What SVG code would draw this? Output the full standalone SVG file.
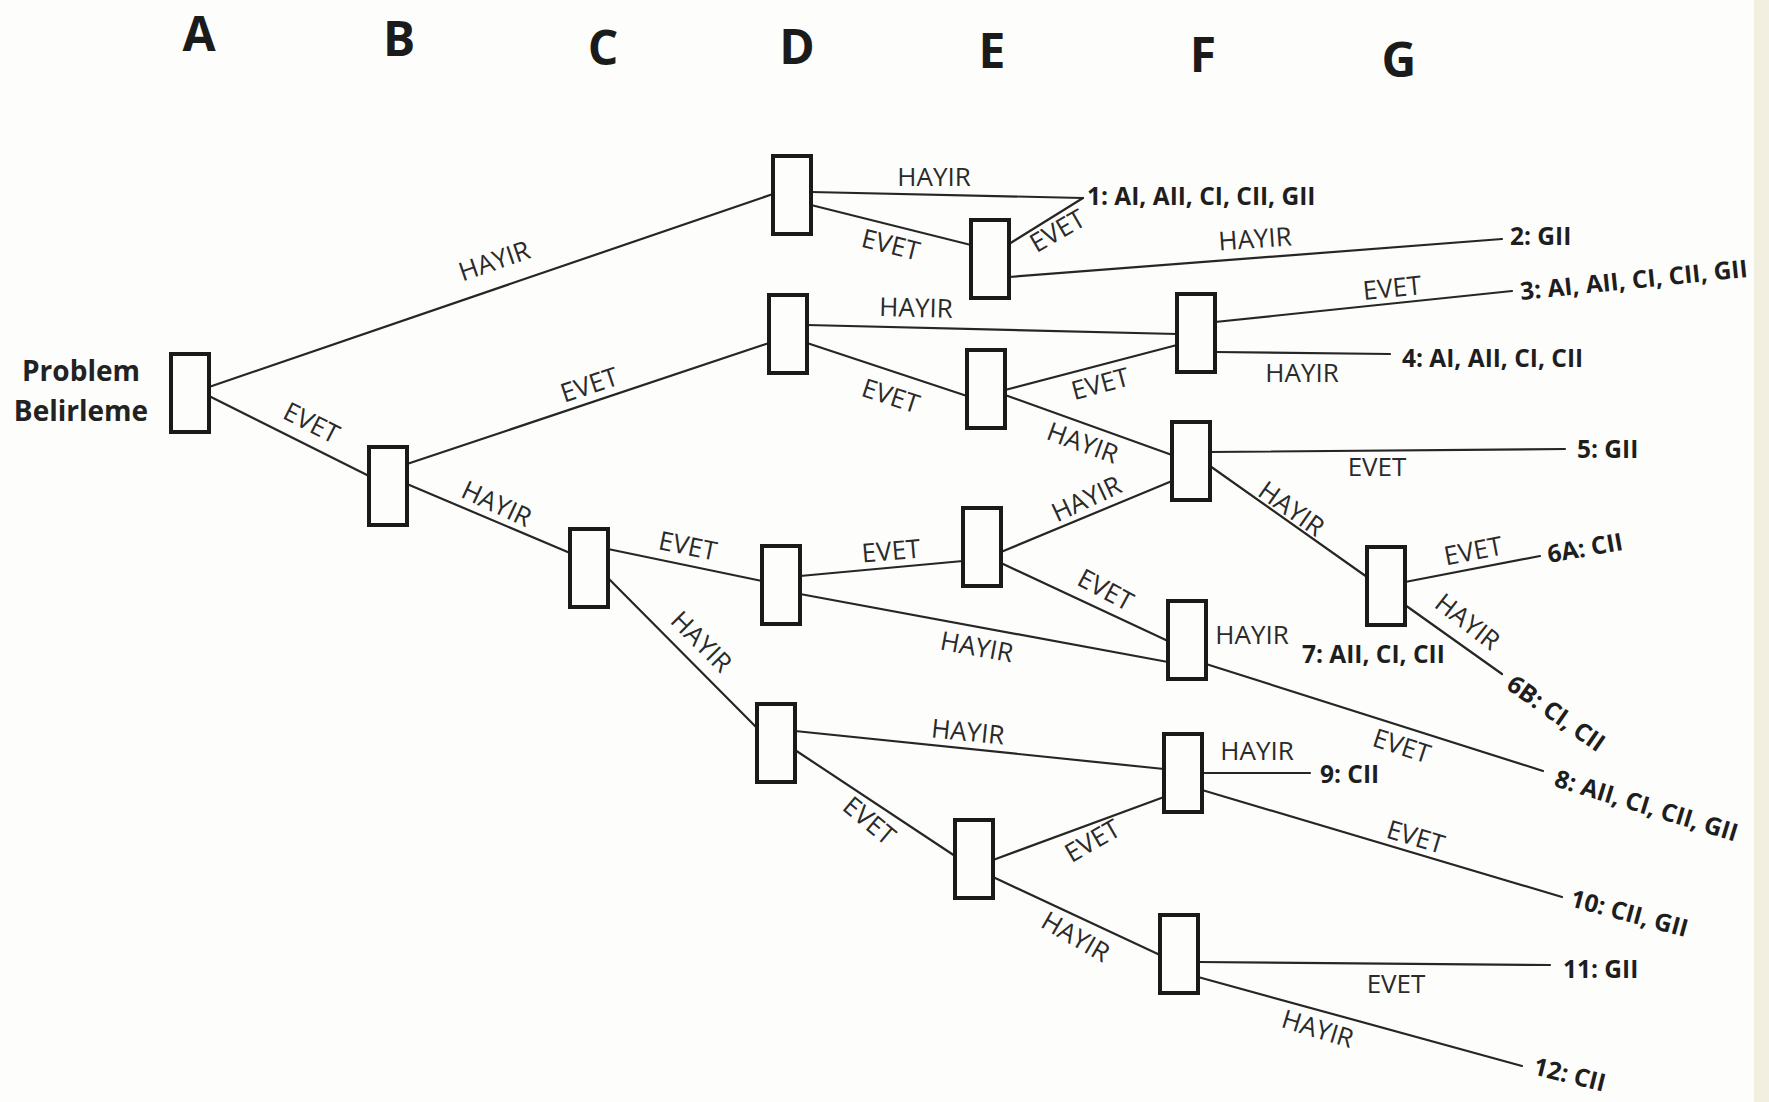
<svg xmlns="http://www.w3.org/2000/svg" width="1769" height="1102" viewBox="0 0 1769 1102">
  <defs>
    <style>
      .col { font-family: "Open Sans", "Liberation Sans", sans-serif; font-weight: 700; font-size: 48px; fill: #1b1b1b; text-anchor: middle; }
      .title { font-family: "Open Sans", "Liberation Sans", sans-serif; font-weight: 700; font-size: 28px; fill: #222; text-anchor: middle; }
      .lbl { font-family: "Open Sans", "Liberation Sans", sans-serif; font-size: 26px; fill: #2a2a2a; text-anchor: middle; dominant-baseline: central; }
      .out { font-family: "Open Sans", "Liberation Sans", sans-serif; font-weight: 700; font-size: 24.5px; fill: #1e1e1e; }
      .box { fill: #fdfdfb; stroke: #1a1a1a; stroke-width: 4; }
      .edge { stroke: #262626; stroke-width: 2.2; fill: none; stroke-linecap: round; }
    </style>
  </defs>

  <!-- paper -->
  <rect x="0" y="0" width="1769" height="1102" fill="#fdfdfb"/>
  <rect x="1754" y="0" width="15" height="1102" fill="#f2eee0"/>

  <!-- column headings -->
  <g id="columns">
    <text class="col" x="199" y="51">A</text>
    <text class="col" x="399" y="56">B</text>
    <text class="col" x="603" y="65">C</text>
    <text class="col" x="797" y="64">D</text>
    <text class="col" x="992" y="68">E</text>
    <text class="col" x="1203" y="72">F</text>
    <text class="col" x="1399" y="77">G</text>
  </g>

  <!-- connectors -->
  <g id="connectors">
    <line class="edge" x1="209" y1="387" x2="773" y2="194"/>
    <line class="edge" x1="209" y1="396" x2="369" y2="476"/>
    <line class="edge" x1="407" y1="464" x2="769" y2="343"/>
    <line class="edge" x1="407" y1="484" x2="570" y2="553"/>
    <line class="edge" x1="608" y1="549" x2="762" y2="581"/>
    <line class="edge" x1="608" y1="578" x2="757" y2="728"/>
    <line class="edge" x1="811" y1="192" x2="1083" y2="198"/>
    <line class="edge" x1="811" y1="205" x2="971" y2="245"/>
    <line class="edge" x1="1009" y1="244" x2="1083" y2="198"/>
    <line class="edge" x1="1009" y1="277" x2="1502" y2="239"/>
    <line class="edge" x1="807" y1="325" x2="1177" y2="334"/>
    <line class="edge" x1="807" y1="343" x2="967" y2="396"/>
    <line class="edge" x1="1005" y1="390" x2="1177" y2="345"/>
    <line class="edge" x1="1005" y1="395" x2="1172" y2="455"/>
    <line class="edge" x1="1215" y1="322" x2="1512" y2="291"/>
    <line class="edge" x1="1215" y1="352" x2="1390" y2="354"/>
    <line class="edge" x1="1001" y1="552" x2="1172" y2="481"/>
    <line class="edge" x1="1210" y1="452" x2="1565" y2="449"/>
    <line class="edge" x1="1210" y1="466" x2="1367" y2="577"/>
    <line class="edge" x1="800" y1="576" x2="963" y2="561"/>
    <line class="edge" x1="1001" y1="563" x2="1168" y2="641"/>
    <line class="edge" x1="800" y1="594" x2="1168" y2="662"/>
    <line class="edge" x1="1405" y1="582" x2="1540" y2="556"/>
    <line class="edge" x1="1405" y1="605" x2="1502" y2="674"/>
    <line class="edge" x1="1206" y1="664" x2="1543" y2="771"/>
    <line class="edge" x1="795" y1="731" x2="1164" y2="769"/>
    <line class="edge" x1="795" y1="750" x2="955" y2="856"/>
    <line class="edge" x1="1202" y1="773" x2="1310" y2="773"/>
    <line class="edge" x1="1202" y1="790" x2="1562" y2="897"/>
    <line class="edge" x1="993" y1="860" x2="1164" y2="797"/>
    <line class="edge" x1="993" y1="877" x2="1160" y2="955"/>
    <line class="edge" x1="1198" y1="962" x2="1550" y2="965"/>
    <line class="edge" x1="1198" y1="977" x2="1522" y2="1066"/>
  </g>

  <!-- branch labels -->
  <g id="branch-labels">
    <text class="lbl" transform="translate(494 260) rotate(-19)">HAYIR</text>
    <text class="lbl" transform="translate(312 422) rotate(27)">EVET</text>
    <text class="lbl" transform="translate(589 384) rotate(-18.5)">EVET</text>
    <text class="lbl" transform="translate(497 503) rotate(25)">HAYIR</text>
    <text class="lbl" transform="translate(688 545) rotate(11.6)">EVET</text>
    <text class="lbl" transform="translate(702 641) rotate(45)">HAYIR</text>
    <text class="lbl" transform="translate(934 176)">HAYIR</text>
    <text class="lbl" transform="translate(891 244) rotate(14)">EVET</text>
    <text class="lbl" transform="translate(1057 230) rotate(-30)">EVET</text>
    <text class="lbl" transform="translate(1255 238) rotate(-4)">HAYIR</text>
    <text class="lbl" transform="translate(916 307) rotate(1.4)">HAYIR</text>
    <text class="lbl" transform="translate(891 395) rotate(18)">EVET</text>
    <text class="lbl" transform="translate(1100 383) rotate(-15)">EVET</text>
    <text class="lbl" transform="translate(1083 442) rotate(20)">HAYIR</text>
    <text class="lbl" transform="translate(1392 287) rotate(-5.8)">EVET</text>
    <text class="lbl" transform="translate(1302 372)">HAYIR</text>
    <text class="lbl" transform="translate(1086 498) rotate(-25)">HAYIR</text>
    <text class="lbl" transform="translate(1377 466)">EVET</text>
    <text class="lbl" transform="translate(1292 508) rotate(35.5)">HAYIR</text>
    <text class="lbl" transform="translate(891 550) rotate(-5)">EVET</text>
    <text class="lbl" transform="translate(1106 589) rotate(28)">EVET</text>
    <text class="lbl" transform="translate(977 646) rotate(10.5)">HAYIR</text>
    <text class="lbl" transform="translate(1473 550) rotate(-11)">EVET</text>
    <text class="lbl" transform="translate(1468 621) rotate(38)">HAYIR</text>
    <text class="lbl" transform="translate(1252 634)">HAYIR</text>
    <text class="lbl" transform="translate(1402 745) rotate(18)">EVET</text>
    <text class="lbl" transform="translate(968 731) rotate(5.8)">HAYIR</text>
    <text class="lbl" transform="translate(1257 750)">HAYIR</text>
    <text class="lbl" transform="translate(1416 836) rotate(16.7)">EVET</text>
    <text class="lbl" transform="translate(870 820) rotate(40)">EVET</text>
    <text class="lbl" transform="translate(1092 840) rotate(-30)">EVET</text>
    <text class="lbl" transform="translate(1076 936) rotate(30)">HAYIR</text>
    <text class="lbl" transform="translate(1396 983)">EVET</text>
    <text class="lbl" transform="translate(1318 1028) rotate(17)">HAYIR</text>
  </g>

  <!-- outcomes -->
  <g id="outcomes">
    <text class="out" x="1087" y="205">1: AI, AII, CI, CII, GII</text>
    <text class="out" x="1510" y="245">2: GII</text>
    <text class="out" transform="translate(1521 300) rotate(-5.8)">3: AI, AII, CI, CII, GII</text>
    <text class="out" x="1402" y="367">4: AI, AII, CI, CII</text>
    <text class="out" x="1577" y="458">5: GII</text>
    <text class="out" transform="translate(1549 563) rotate(-10)">6A: CII</text>
    <text class="out" transform="translate(1505 688) rotate(35)">6B: CI, CII</text>
    <text class="out" x="1302" y="663">7: AII, CI, CII</text>
    <text class="out" transform="translate(1553 786) rotate(17)">8: AII, CI, CII, GII</text>
    <text class="out" x="1320" y="783">9: CII</text>
    <text class="out" transform="translate(1569 906) rotate(15)">10: CII, GII</text>
    <text class="out" x="1563" y="978">11: GII</text>
    <text class="out" transform="translate(1532 1074) rotate(14)">12: CII</text>
  </g>

  <!-- decision nodes -->
  <g id="node-A">
    <rect class="box" x="171" y="354" width="38" height="78"/>
    <text class="title" x="81" y="381">Problem</text>
    <text class="title" x="81" y="421">Belirleme</text>
  </g>
  <g id="node-B"><rect class="box" x="369" y="447" width="38" height="78"/></g>
  <g id="node-C"><rect class="box" x="570" y="529" width="38" height="78"/></g>
  <g id="node-D1"><rect class="box" x="773" y="156" width="38" height="78"/></g>
  <g id="node-D2"><rect class="box" x="769" y="295" width="38" height="78"/></g>
  <g id="node-D3"><rect class="box" x="762" y="546" width="38" height="78"/></g>
  <g id="node-D4"><rect class="box" x="757" y="704" width="38" height="78"/></g>
  <g id="node-E1"><rect class="box" x="971" y="220" width="38" height="78"/></g>
  <g id="node-E2"><rect class="box" x="967" y="350" width="38" height="78"/></g>
  <g id="node-E3"><rect class="box" x="963" y="508" width="38" height="78"/></g>
  <g id="node-E4"><rect class="box" x="955" y="820" width="38" height="78"/></g>
  <g id="node-F1"><rect class="box" x="1177" y="294" width="38" height="78"/></g>
  <g id="node-F2"><rect class="box" x="1172" y="422" width="38" height="78"/></g>
  <g id="node-F3"><rect class="box" x="1168" y="601" width="38" height="78"/></g>
  <g id="node-F4"><rect class="box" x="1164" y="734" width="38" height="78"/></g>
  <g id="node-F5"><rect class="box" x="1160" y="915" width="38" height="78"/></g>
  <g id="node-G1"><rect class="box" x="1367" y="547" width="38" height="78"/></g>
</svg>
